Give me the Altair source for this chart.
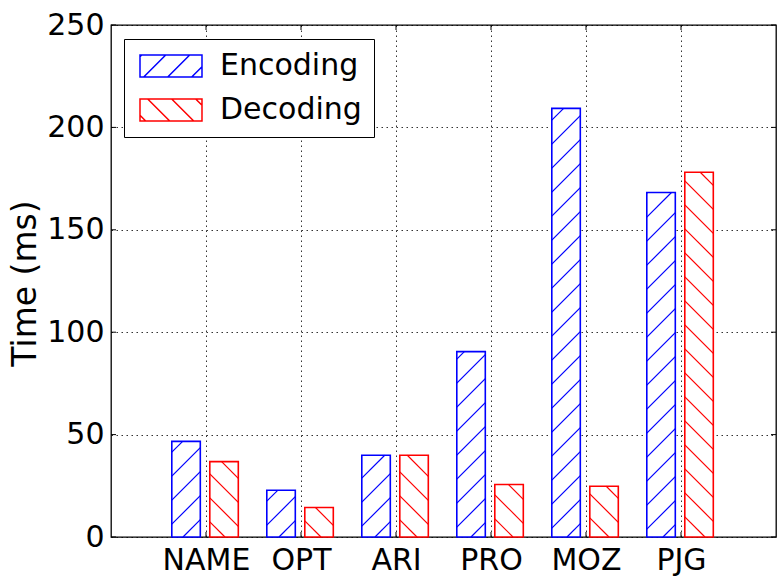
import math
import json
import altair as alt
import pandas as pd

# ---------------- data ----------------
categories = ["NAME", "OPT", "ARI", "PRO", "MOZ", "PJG"]
series = ["Encoding", "Decoding"]
encoding_ms = [46.7, 22.8, 39.9, 90.5, 209.3, 168.2]
decoding_ms = [36.8, 14.4, 39.9, 25.6, 24.8, 178.1]
y_ticks = [0, 50, 100, 150, 200, 250]
colors = ["#0000ff", "#ff0000"]

# ---------------- layout / style constants ----------------
W, H = 665, 512
XDOM = [-1, 6]
YDOM = [0, 250]
PX_X = W / (XDOM[1] - XDOM[0])
PX_Y = H / (YDOM[1] - YDOM[0])
BAR_W = 0.3
OFFSETS = {"Encoding": -0.36, "Decoding": 0.04}
HATCH = {"Encoding": ("/", 0.0), "Decoding": ("\\", 18.0)}
PERIOD = 24.0
FONT = "DejaVu Sans"


def hatch(x0, x1, h, kind, phase, period=PERIOD):
    """45-degree hatch segments clipped to rect [x0,x1]x[0,h] (pixel units, y up)."""
    segs = []
    if kind == "/":
        k = math.floor((-x1 - phase) / period)
        while True:
            c = phase + k * period
            if c >= h - x0:
                break
            xa, xb = max(x0, -c), min(x1, h - c)
            if xb - xa > 0.6:
                segs.append((xa, xa + c, xb, xb + c))
            k += 1
    else:
        k = math.floor((x0 - phase) / period)
        while True:
            c = phase + k * period
            if c >= x1 + h:
                break
            xa, xb = max(x0, c - h), min(x1, c)
            if xb - xa > 0.6:
                segs.append((xa, c - xa, xb, c - xb))
            k += 1
    return segs


bar_rows, hatch_rows = [], []
for s, vals in zip(series, [encoding_ms, decoding_ms]):
    kind, phase = HATCH[s]
    for i, (cat, v) in enumerate(zip(categories, vals)):
        x0 = i + OFFSETS[s]
        x1 = x0 + BAR_W
        bar_rows.append({"category": cat, "series": s, "x0": x0, "x1": x1, "v": v})
        X0 = (x0 - XDOM[0]) * PX_X
        X1 = (x1 - XDOM[0]) * PX_X
        for xa, ya, xb, yb in hatch(X0, X1, v * PX_Y, kind, phase):
            hatch_rows.append({
                "series": s,
                "hx0": xa / PX_X + XDOM[0], "hy0": ya / PX_Y,
                "hx1": xb / PX_X + XDOM[0], "hy1": yb / PX_Y,
            })
bars_df = pd.DataFrame(bar_rows)
hatch_df = pd.DataFrame(hatch_rows)

# legend swatch paths (62 x 22 px, unit r = 11 px)
SW_W, SW_H, R = 62.0, 22.0, 11.0
LEG_PHASE = {"Encoding": ("/", 20.3), "Decoding": ("\\", 5.7)}


def swatch_path(s):
    kind, phase = LEG_PHASE[s]
    p = "M-1,-1L{0:.3f},-1L{0:.3f},1L-1,1Z".format(SW_W / R - 1)
    for xa, ya, xb, yb in hatch(0, SW_W, SW_H, kind, phase):
        p += " M{:.3f},{:.3f}L{:.3f},{:.3f}".format(
            xa / R - 1, 1 - ya / R, xb / R - 1, 1 - yb / R)
    return p


shape_paths = [swatch_path(s) for s in series]

xscale = alt.Scale(domain=XDOM, nice=False, zero=False)
yscale = alt.Scale(domain=YDOM, nice=False, zero=False)
series_stroke = alt.condition(
    "datum.series === " + json.dumps(series[0]), alt.value(colors[0]), alt.value(colors[1]))

label_expr = json.dumps(categories) + "[datum.value]"
xaxis = alt.Axis(values=list(range(len(categories))), labelExpr=label_expr,
                 labelFlush=False, labelPadding=8, title="")
yaxis = alt.Axis(values=y_ticks, title="Time (ms)", titleX=-69, titleY=258,
                 labelPadding=7)


def X(field):
    return alt.X(field, scale=xscale, axis=xaxis)


def Y(field):
    return alt.Y(field, scale=yscale, axis=yaxis)


bars = alt.Chart(bars_df).mark_bar(fill="white", strokeWidth=1.6).encode(
    x=X("x0:Q"), x2="x1:Q",
    y=Y("v:Q"), y2=alt.datum(0),
    stroke=series_stroke,
)

hatches = alt.Chart(hatch_df).mark_rule(strokeWidth=1.2).encode(
    x=X("hx0:Q"), x2="hx1:Q",
    y=Y("hy0:Q"), y2="hy1:Q",
    stroke=series_stroke,
)

legend_layer = alt.Chart(pd.DataFrame({"series": series})).transform_filter(
    "false"
).mark_point(filled=False, opacity=1).encode(
    color=alt.Color("series:N", scale=alt.Scale(domain=series, range=colors), title=""),
    shape=alt.Shape("series:N", scale=alt.Scale(domain=series, range=shape_paths), title=""),
)

ytick_df = pd.DataFrame({"t": y_ticks})
xtick_df = pd.DataFrame({"t": list(range(len(categories)))})
TL = 5
ytl = alt.Chart(ytick_df).mark_rule(color="black", strokeWidth=1).encode(
    y=Y("t:Q"), x=alt.value(0), x2=alt.value(TL))
ytr = alt.Chart(ytick_df).mark_rule(color="black", strokeWidth=1).encode(
    y=Y("t:Q"), x=alt.value(W), x2=alt.value(W - TL))
xtb = alt.Chart(xtick_df).mark_rule(color="black", strokeWidth=1).encode(
    x=X("t:Q"), y=alt.value(H), y2=alt.value(H - TL))
xtt = alt.Chart(xtick_df).mark_rule(color="black", strokeWidth=1).encode(
    x=X("t:Q"), y=alt.value(0), y2=alt.value(TL))

chart = alt.layer(bars, hatches, legend_layer, ytl, ytr, xtb, xtt).properties(
    width=W, height=H,
    padding={"left": 111, "top": 25, "right": 784 - 111 - W, "bottom": 582 - 25 - H},
    autosize=alt.AutoSizeParams(type="none"),
).configure_axis(
    labelFont=FONT, labelFontSize=30, labelColor="black",
    titleFont=FONT, titleFontSize=33, titleFontWeight="normal", titleColor="black",
    grid=True, gridColor="black", gridDash=[1.5, 3.5], gridWidth=1, gridOpacity=0.8,
    domain=False, ticks=False, zindex=1,
).configure_view(
    stroke="black", strokeWidth=1.3,
).configure_legend(
    orient="none", legendX=13, legendY=14, padding=12, zindex=2,
    strokeColor="black", fillColor="white", cornerRadius=0,
    labelFont=FONT, labelFontSize=30, labelColor="black", labelOffset=54,
    labelLimit=400, symbolSize=484, symbolStrokeWidth=1.5, rowPadding=14,
)

chart.save("out.html", embed_options={"renderer": "svg", "actions": False})
